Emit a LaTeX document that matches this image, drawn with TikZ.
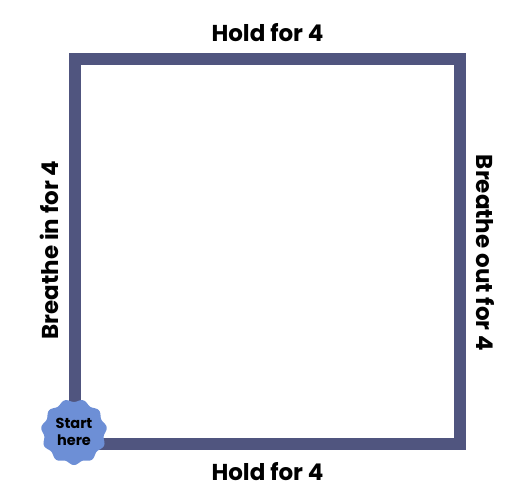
\documentclass[tikz,border=0pt]{standalone}
\usepackage{fontspec}
\setmainfont{Poppins}
\usetikzlibrary{positioning}
\definecolor{boxblue}{HTML}{50557F}
\definecolor{badgeblue}{HTML}{6D8FD6}
\tikzset{
    x=1pt, y=1pt, % one unit is one pixel of the picture
    side/.style={line width=12pt, draw=boxblue, line cap=rect}, % the edges of the box
    phase/.style={font=\bfseries\fontsize{23}{27}\selectfont, inner sep=0pt}, % text beside each edge
    badge/.style={font=\bfseries\fontsize{14.5}{17}\selectfont, align=center, inner sep=0pt},
}
\begin{document}
\begin{tikzpicture}
    \useasboundingbox (0,0) rectangle (526,495);
    \coordinate (bl) at (75,51);
    \coordinate (br) at (459.5,51);
    \coordinate (tr) at (459.5,436);
    \coordinate (tl) at (75,436);
    \draw[side] (bl) -- (br) -- (tr) -- (tl) -- cycle;
    \node[phase] (top) at (267.5,462) {Hold for 4};
    \node[phase] (bottom) at (267.5,23) {Hold for 4};
    \node[phase, rotate=90] (in) at (49,245) {Breathe in for 4};
    \node[phase, rotate=-90] (out) at (485.5,242) {Breathe out for 4};
    \coordinate (badgecentre) at (74,63);
    \fill[badgeblue, shift={(badgecentre)}] plot[domain=0:360, samples=181, smooth] (\x:{31.5+1.5*sin(11*\x)}) -- cycle;
    \node[badge] (start) at (badgecentre) {Start\\here};
\end{tikzpicture}
\end{document}
